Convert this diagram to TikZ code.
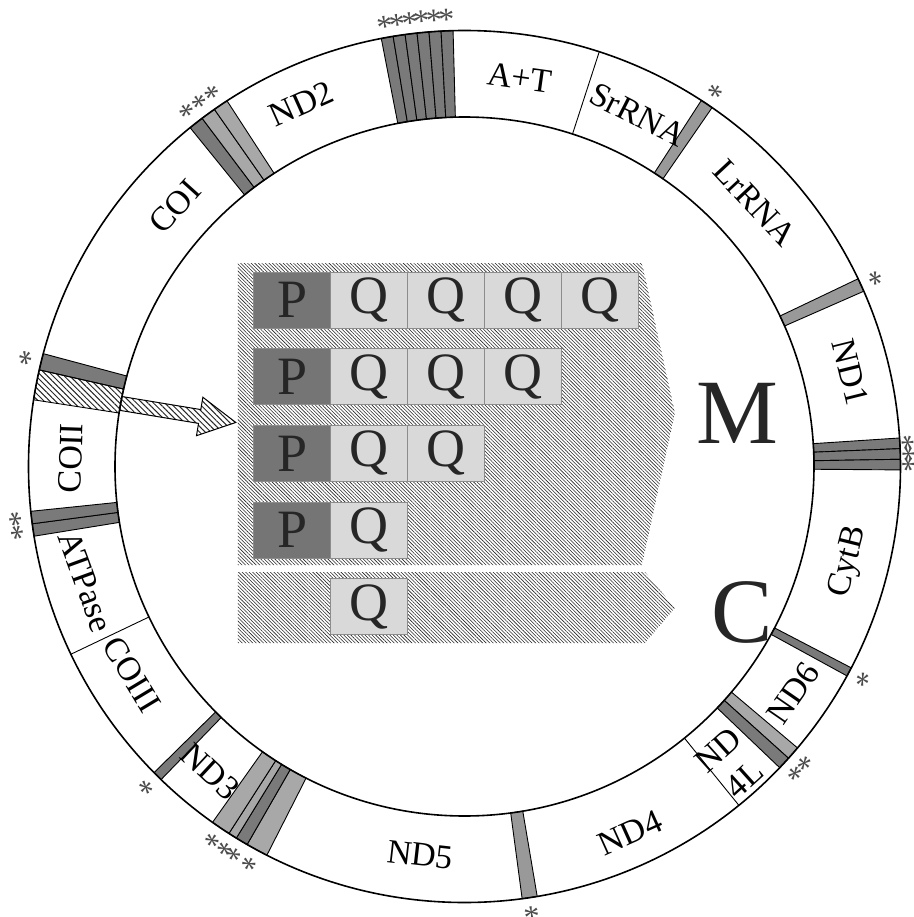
\documentclass[tikz,border=0pt]{standalone}
\usepackage{fontspec}
\setmainfont{Liberation Serif}
\usepackage{xcolor}
\usetikzlibrary{patterns.meta, positioning}

\definecolor{stripdark}{gray}{0.48}
\definecolor{stripmid}{gray}{0.6}
\definecolor{striplight}{gray}{0.66}
\definecolor{pfill}{gray}{0.46}
\definecolor{qfill}{gray}{0.85}

\newcommand{\ringin}{349.5}
\newcommand{\ringout}{436}
% one band of the ring, between two angles
\newcommand{\genband}[3]{%
  \path[strip, #3] (#1:\ringin) arc (#1:#2:\ringin) -- (#2:\ringout) arc (#2:#1:\ringout) -- cycle;}

\begin{document}
\begin{tikzpicture}[
    x=0.5pt, y=0.5pt,
    strip/.style={draw=black, line width=0.45pt},
    ring/.style={draw=black, line width=0.8pt},
    lbl/.style={font=\fontsize{17}{19.5}\selectfont, inner sep=0pt, align=center},
    starlbl/.style={font=\fontsize{16}{16}\selectfont, text=black!70, inner sep=0pt},
    hatchfine/.style={pattern={Lines[angle=-45, distance=1.25pt, line width=0.28pt]}, pattern color=black!85},
    hatchcoarse/.style={pattern={Lines[angle=-45, distance=2pt, line width=0.5pt]}, pattern color=black!85},
    pbox/.style={draw=black!45, line width=0.5pt, fill=pfill, minimum width=38.5pt, minimum height=28pt, inner sep=0pt, text=black!85, font=\fontsize{27}{27}\selectfont},
    qbox/.style={pbox, fill=qfill},
    big/.style={font=\fontsize{46}{46}\selectfont, inner sep=0pt, text=black!85}
]
\useasboundingbox (-464.5,-450.5) rectangle (449.5,466.5);
\fill[white] (-464.5,-450.5) rectangle (449.5,466.5);

% Bands between the genes
\foreach \a/\b/\c in {
    101/99.42/stripdark, 99.42/97.83/stripdark, 97.83/96.25/stripdark,
    96.25/94.67/stripdark, 94.67/93.08/stripdark, 93.08/91.5/stripdark,
    129/127/stripdark, 127/125/striplight, 125/123/striplight,
    57.1/55.4/stripmid, 25.5/23.7/stripmid,
    3.75/2.35/stripdark, 2.35/0.95/stripdark, 0.95/-0.45/stripdark,
    -27.5/-28.7/stripdark, -40.2/-42/striplight, -42/-43.7/stripdark,
    -80.4/-82.4/stripmid,
    243.05/240.1/striplight, 240.1/238.45/stripdark, 238.45/237.3/striplight, 237.3/234.7/striplight,
    225.9/224.6/stripdark,
    189.2/187.55/stripdark, 187.55/185.9/stripdark,
    167.2/165/stripdark}
  {\genband{\a}{\b}{fill=\c}}
\genband{171.2}{167.2}{hatchcoarse}

% Plain gene borders
\foreach \a in {72, -51, 205.5}
  \draw[strip] (\a:\ringin) -- (\a:\ringout);

% Ring
\draw[ring] (0,0) circle[radius=\ringout];
\draw[ring] (0,0) circle[radius=\ringin];

% Gene names
\node[lbl, rotate=-8] (gAT) at (81.9:393) {A+T};
\node[lbl, rotate=-27] (gSr) at (63.8:392) {SrRNA};
\node[lbl, rotate=-47] (gLr) at (42.2:392) {LrRNA};
\node[lbl, rotate=-76] (gND1) at (13.8:397) {ND1};
\node[lbl, rotate=76] (gCytB) at (-13.95:396) {CytB};
\node[lbl, rotate=55.4] (gND6) at (-34.6:399) {ND6};
\node[lbl, rotate=42] (gND4L) at (-48.2:400) {ND\\4L};
\node[lbl, rotate=24.3] (gND4) at (-65.7:402) {ND4};
\node[lbl, rotate=-6.5] (gND5) at (-96.5:391) {ND5};
\node[lbl, rotate=-43] (gND3) at (230.2:397) {ND3};
\node[lbl, rotate=-59] (gCOIII) at (212:392) {COIII};
\node[lbl, rotate=-70] (gATP) at (196.9:396) {ATPase};
\node[lbl, rotate=88] (gCOII) at (178.8:394) {COII};
\node[lbl, rotate=48] (gCOI) at (138.1:389) {COI};
\node[lbl, rotate=24.2] (gND2) at (114.2:398) {ND2};

% Asterisks
\foreach \a/\r [count=\i] in {100.2/447, 98.6/447, 97.0/447, 95.5/447, 93.9/447, 92.3/447,
    128/447, 126/447, 124/447, 56.25/447, 24.6/447, 3.05/440, 1.65/440, 0.25/440,
    -28.1/447, -41.1/447, -42.85/447, -81.4/447, 241.6/447, 239.3/447, 237.9/447,
    236.0/447, 225.25/447, 188.4/447, 186.7/447, 166.1/447}
  \node[starlbl, rotate=\a-90] (st\i) at (\a:\r) {*};

% Hatched panels
\path[hatchfine] (-226.5,203.5) -- (177.5,203.5) -- (210.5,53.5) -- (177.5,-98.5) -- (-226.5,-98.5) -- cycle;
\path[hatchfine] (-226.5,-105.5) -- (180.5,-105.5) -- (210.5,-141.5) -- (180.5,-176.5) -- (-226.5,-176.5) -- cycle;

% Boxes
\foreach \n [count=\r] in {4,3,2,1} {
  \node[pbox] (p\r) at (-172, 243.2-76.7*\r) {P};
  \foreach \k in {1,...,\n}
    \node[qbox] (q\r\k) at (-172+77*\k, 243.2-76.7*\r) {Q};
}
\node[qbox] (q5) at (-95,-140) {Q};

\node[big] (mlbl) at (272.5,53.5) {M};
\node[big] (clbl) at (277.5,-145.5) {C};

% Arrow from the control region band
\coordinate (src) at (169.6:349.5);
\begin{scope}[shift={(src)}, rotate=-9.4]
  \path[draw, line width=0.5pt, hatchcoarse] (0,7) -- (80,7) -- (80,19.5) -- (116.6,0) -- (80,-19.5) -- (80,-7) -- (0,-7) -- cycle;
\end{scope}

\end{tikzpicture}
\end{document}
